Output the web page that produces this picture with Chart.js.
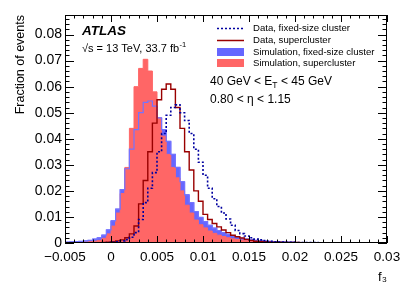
<!DOCTYPE html>
<html>
<head>
<meta charset="utf-8">
<script src="https://cdn.jsdelivr.net/npm/chart.js@4.4.1/dist/chart.umd.min.js"></script>
<style>
  html, body { margin: 0; padding: 0; background: #fff; }
  .chart-container { width: 407px; height: 292px; }
</style>
</head>
<body>
<div class="chart-container"><canvas id="f3Chart" width="407" height="292"></canvas></div>
<script>
// f3 histograms, 70 bins of 0.0005 from -0.005 to 0.03
var binLow = -0.005;
var binWidth = 0.0005;

var dataFixed = [
    0.0001, 0.0001, 0.0001, 0.0001, 0.0001, 0.0001, 0.0001, 0.0001, 0.0001, 0.0002,
    0.0003, 0.0005, 0.0008, 0.0013, 0.0022, 0.0040, 0.0090, 0.0155, 0.0210, 0.0270,
    0.0350, 0.0420, 0.0490, 0.0520, 0.0530, 0.0500, 0.0470, 0.0420, 0.0360, 0.0310,
    0.0260, 0.0210, 0.0170, 0.0140, 0.0115, 0.0092, 0.0068, 0.0048, 0.0036, 0.0027,
    0.0020, 0.0015, 0.0012, 0.0009, 0.0007, 0.0005, 0.0004, 0.0004, 0.0003, 0.0003,
    0.0002, 0.0002, 0.0002, 0.0002, 0.0002, 0.0001, 0.0001, 0.0001, 0.0001, 0.0001,
    0.0001, 0.0001, 0.0001, 0.0001, 0.0001, 0.0001, 0.0001, 0.0001, 0.0001, 0.0001
];
var dataSuper = [
    0.0001, 0.0001, 0.0001, 0.0001, 0.0001, 0.0001, 0.0001, 0.0001, 0.0002, 0.0003,
    0.0005, 0.0008, 0.0012, 0.0020, 0.0035, 0.0065, 0.0150, 0.0240, 0.0350, 0.0460,
    0.0550, 0.0590, 0.0610, 0.0590, 0.0520, 0.0440, 0.0350, 0.0280, 0.0200, 0.0160,
    0.0110, 0.0090, 0.0075, 0.0062, 0.0050, 0.0040, 0.0030, 0.0024, 0.0019, 0.0014,
    0.0010, 0.0007, 0.0006, 0.0005, 0.0004, 0.0003, 0.0003, 0.0002, 0.0002, 0.0002,
    0.0002, 0.0001, 0.0001, 0.0001, 0.0001, 0.0001, 0.0001, 0.0001, 0.0001, 0.0001,
    0.0001, 0.0001, 0.0001, 0.0001, 0.0001, 0.0001, 0.0001, 0.0001, 0.0001, 0.0001
];
var simFixed = [
    0.0003, 0.0004, 0.0005, 0.0006, 0.0008, 0.0010, 0.0015, 0.0020, 0.0030, 0.0050,
    0.0085, 0.0130, 0.0205, 0.0285, 0.0360, 0.0435, 0.0500, 0.0540, 0.0545, 0.0525,
    0.0480, 0.0435, 0.0390, 0.0340, 0.0290, 0.0235, 0.0185, 0.0155, 0.0120, 0.0098,
    0.0082, 0.0068, 0.0057, 0.0048, 0.0040, 0.0033, 0.0027, 0.0022, 0.0018, 0.0015,
    0.0012, 0.0010, 0.0008, 0.0007, 0.0006, 0.0005, 0.0004, 0.0004, 0.0003, 0.0003,
    0.0002, 0.0002, 0.0002, 0.0002, 0.0002, 0.0001, 0.0001, 0.0001, 0.0001, 0.0001,
    0.0001, 0.0001, 0.0001, 0.0001, 0.0001, 0.0001, 0.0001, 0.0001, 0.0001, 0.0001
];
var simSuper = [
    0.0002, 0.0002, 0.0003, 0.0003, 0.0004, 0.0005, 0.0007, 0.0010, 0.0018, 0.0035,
    0.0065, 0.0115, 0.0190, 0.0290, 0.0440, 0.0600, 0.0670, 0.0705, 0.0660, 0.0580,
    0.0480, 0.0410, 0.0340, 0.0290, 0.0250, 0.0200, 0.0145, 0.0115, 0.0088, 0.0070,
    0.0058, 0.0046, 0.0037, 0.0030, 0.0025, 0.0020, 0.0016, 0.0013, 0.0011, 0.0009,
    0.0007, 0.0006, 0.0005, 0.0004, 0.0004, 0.0003, 0.0003, 0.0002, 0.0002, 0.0002,
    0.0002, 0.0002, 0.0001, 0.0001, 0.0001, 0.0001, 0.0001, 0.0001, 0.0001, 0.0001,
    0.0001, 0.0001, 0.0001, 0.0001, 0.0001, 0.0001, 0.0001, 0.0001, 0.0001, 0.0001
];

var seriesNames = [
    'Data, fixed-size cluster',
    'Data, supercluster',
    'Simulation, fixed-size cluster',
    'Simulation, supercluster'
];

var FONT = '"Liberation Sans", Arial, Helvetica, sans-serif';

// points at the left edge of each bin, plus the right edge of the last one
function histPoints(vals) {
    var pts = [];
    for (var i = 0; i <= vals.length; i++) {
        pts.push({ x: binLow + i * binWidth, y: vals[Math.min(i, vals.length - 1)] });
    }
    return pts;
}

function fmt(v) {
    return parseFloat(v.toFixed(4)).toString().replace('-', '\u2212');
}

var decorations = {
    id: 'decorations',
    afterDraw: function (chart) {
        var ctx = chart.ctx;
        var a = chart.chartArea;
        var xs = chart.scales.x;
        var ys = chart.scales.y;
        ctx.save();

        // frame and inward ticks on all four sides
        ctx.strokeStyle = '#000';
        ctx.lineWidth = 1;
        ctx.strokeRect(a.left + 0.5, a.top + 0.5, a.right - a.left - 1, a.bottom - a.top - 1);
        ctx.beginPath();
        for (var k = 0; k <= 35; k++) {
            var px = Math.round(xs.getPixelForValue(-0.005 + k * 0.001)) + 0.5;
            var len = (k % 5 === 0) ? 7 : 3.5;
            ctx.moveTo(px, a.bottom); ctx.lineTo(px, a.bottom - len);
            ctx.moveTo(px, a.top); ctx.lineTo(px, a.top + len);
        }
        for (var j = 0; j <= 43; j++) {
            var py = Math.round(ys.getPixelForValue(j * 0.002)) + 0.5;
            var ylen = (j % 5 === 0) ? 9 : 4.5;
            ctx.moveTo(a.left, py); ctx.lineTo(a.left + ylen, py);
            ctx.moveTo(a.right, py); ctx.lineTo(a.right - ylen, py);
        }
        ctx.stroke();

        ctx.fillStyle = '#000';
        ctx.textBaseline = 'middle';
        ctx.textAlign = 'left';

        // ATLAS label
        ctx.font = 'italic bold 13.5px ' + FONT;
        ctx.fillText('ATLAS', 82, 31);

        ctx.font = '11px ' + FONT;
        var t1 = '\u221As = 13 TeV, 33.7 fb';
        ctx.fillText(t1, 82, 49);
        var w1 = ctx.measureText(t1).width;
        ctx.font = '7.5px ' + FONT;
        ctx.fillText('-1', 82 + w1 + 0.5, 45);

        // legend
        var lx = 217, lw = 27, tx = 253;
        var rows = [28, 40, 52, 63];
        ctx.lineWidth = 1.5;
        ctx.strokeStyle = 'rgb(0,0,160)';
        ctx.setLineDash([2, 2]);
        ctx.beginPath(); ctx.moveTo(lx, rows[0] + 0.5); ctx.lineTo(lx + lw, rows[0] + 0.5); ctx.stroke();
        ctx.setLineDash([]);
        ctx.strokeStyle = 'rgb(153,0,0)';
        ctx.beginPath(); ctx.moveTo(lx, rows[1] + 0.5); ctx.lineTo(lx + lw, rows[1] + 0.5); ctx.stroke();
        ctx.fillStyle = 'rgb(102,102,255)';
        ctx.fillRect(lx, rows[2] - 4, lw, 8);
        ctx.fillStyle = 'rgb(255,102,102)';
        ctx.fillRect(lx, rows[3] - 4, lw, 8);
        ctx.fillStyle = '#000';
        ctx.font = '9.6px ' + FONT;
        for (var r = 0; r < rows.length; r++) {
            ctx.fillText(seriesNames[r], tx, rows[r]);
        }

        // selection text
        ctx.font = '12px ' + FONT;
        var s1 = '40 GeV < E';
        ctx.fillText(s1, 210, 82);
        var ws = ctx.measureText(s1).width;
        ctx.font = '8.5px ' + FONT;
        ctx.fillText('T', 210 + ws, 86);
        var wt = ctx.measureText('T').width;
        ctx.font = '12px ' + FONT;
        ctx.fillText(' < 45 GeV', 210 + ws + wt, 82);
        ctx.fillText('0.80 < \u03B7 < 1.15', 210, 100);

        ctx.restore();
    }
};

var ctx = document.getElementById('f3Chart');
new Chart(ctx, {
    type: 'line',
    data: {
        datasets: [
            {
                label: seriesNames[0],
                data: histPoints(dataFixed),
                stepped: 'before',
                borderColor: 'rgb(0,0,160)',
                borderWidth: 1.6,
                borderDash: [2, 2],
                fill: false,
                order: 1
            },
            {
                label: seriesNames[1],
                data: histPoints(dataSuper),
                stepped: 'before',
                borderColor: 'rgb(153,0,0)',
                borderWidth: 1.4,
                fill: false,
                order: 2
            },
            {
                label: 'outline',
                data: histPoints(simFixed),
                stepped: 'before',
                borderColor: 'rgb(115,115,255)',
                borderWidth: 1.2,
                fill: false,
                order: 3
            },
            {
                label: seriesNames[3],
                data: histPoints(simSuper),
                stepped: 'before',
                borderColor: 'rgb(255,102,102)',
                backgroundColor: 'rgb(255,102,102)',
                borderWidth: 1,
                fill: 'origin',
                order: 4
            },
            {
                label: seriesNames[2],
                data: histPoints(simFixed),
                stepped: 'before',
                borderColor: 'rgb(102,102,255)',
                backgroundColor: 'rgb(102,102,255)',
                borderWidth: 1,
                fill: 'origin',
                order: 5
            }
        ]
    },
    options: {
        responsive: false,
        devicePixelRatio: 1,
        animation: false,
        layout: { padding: { left: 0, right: 20, top: 15, bottom: 0 } },
        elements: { point: { radius: 0 } },
        plugins: {
            legend: { display: false },
            tooltip: { enabled: false }
        },
        scales: {
            x: {
                type: 'linear',
                min: -0.005,
                max: 0.03,
                afterFit: function (s) { s.height = 49; },
                grid: { display: false, drawTicks: false },
                border: { display: false },
                ticks: {
                    stepSize: 0.005,
                    autoSkip: false,
                    maxRotation: 0,
                    padding: 6,
                    color: '#000',
                    font: { family: FONT, size: 13.5 },
                    callback: fmt
                },
                title: {
                    display: true,
                    text: 'f\u2083',
                    align: 'end',
                    color: '#000',
                    font: { family: FONT, size: 13 },
                    padding: { top: 0, bottom: 7 }
                }
            },
            y: {
                min: 0,
                max: 0.0875,
                afterFit: function (s) { s.width = 65; },
                afterBuildTicks: function (s) {
                    s.ticks = s.ticks.filter(function (t) {
                        return Math.abs(t.value * 100 - Math.round(t.value * 100)) < 1e-6;
                    });
                },
                grid: { display: false, drawTicks: false },
                border: { display: false },
                ticks: {
                    stepSize: 0.01,
                    padding: 3,
                    color: '#000',
                    font: { family: FONT, size: 14 },
                    callback: fmt
                },
                title: {
                    display: true,
                    text: 'Fraction of events',
                    align: 'end',
                    color: '#000',
                    font: { family: FONT, size: 12.5 },
                    padding: { top: 13, bottom: 0 }
                }
            }
        }
    },
    plugins: [decorations]
});
</script>
</body>
</html>
